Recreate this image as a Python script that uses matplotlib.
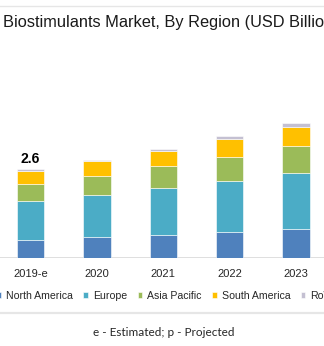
import numpy as np
import matplotlib.pyplot as plt
from matplotlib.lines import Line2D

# data (USD billion)
years = ["2019-e", "2020", "2021", "2022", "2023"]
north_america = [0.52, 0.60, 0.66, 0.75, 0.84]
europe = [1.13, 1.24, 1.38, 1.50, 1.66]
asia_pacific = [0.51, 0.57, 0.64, 0.72, 0.79]
south_america = [0.39, 0.42, 0.45, 0.51, 0.56]
row = [0.05, 0.05, 0.07, 0.08, 0.11]
regions = ["North America", "Europe", "Asia Pacific", "South America", "RoW"]
colors = ["#4F81BD", "#4BACC6", "#9BBB59", "#FFC000", "#C4C0D2"]
first_total = "2.6"

W, H = 324, 346
fig = plt.figure(figsize=(W / 100, H / 100), dpi=100, facecolor='white')

# axes placed in pixel terms: baseline at y=257.5, 34 px per billion
base_px, top_px = 257.5, 40
ax = fig.add_axes([0, (H - base_px) / H, 1, (base_px - top_px) / H])
ax.set_ylim(0, (base_px - top_px) / 34)
step = 66.4
ax.set_xlim(-30.5 / step, (W - 30.5) / step)
for s in ['top', 'right', 'left', 'bottom']:
    ax.spines[s].set_visible(False)
ax.set_yticks([])

x = np.arange(len(years))
bottom = np.zeros(len(years))
for vals, name, c in zip([north_america, europe, asia_pacific, south_america, row], regions, colors):
    ax.bar(x, vals, width=0.41, bottom=bottom, color=c, label=name, edgecolor='white', linewidth=0.4)
    bottom += np.array(vals)

ax.axhline(0, color='#D9D9D9', lw=1.2, zorder=0)
ax.text(x[0], bottom[0] + 0.1, first_total, ha='center', va='bottom',
        fontsize=10, fontweight='bold', family='Liberation Sans', color='black')

ax.set_xticks(x)
ax.set_xticklabels(years, fontsize=8, family='Liberation Sans', color='#262626')
ax.tick_params(axis='x', length=0, pad=8)

# title (cropped at the right edge like the reference)
fig.text(3 / W, 1 - 23 / H, "Biostimulants Market, By Region (USD Billion)", ha='left', va='center',
         fontsize=11.8, family='Liberation Sans', color='#1a1a1a')

# thin rules at the top and above the footnote
fig.add_artist(Line2D([0, 1], [1 - 6 / H, 1 - 6 / H], color='#E6E6E6', lw=1))
fig.add_artist(Line2D([0, 1], [1 - 313 / H, 1 - 313 / H], color='#E6E6E6', lw=1.6))

handles, labels = ax.get_legend_handles_labels()
leg = fig.legend(handles, labels, loc='center left', bbox_to_anchor=(-3.5 / W, 1 - 296 / H),
                 ncol=5, frameon=False, handlelength=0.45, handleheight=0.45,
                 handletextpad=0.45, columnspacing=1.0, borderpad=0, borderaxespad=0,
                 prop={'family': 'Liberation Sans', 'size': 7.6})
for t in leg.get_texts():
    t.set_color('#262626')

fig.text(163.7 / W, 1 - 333 / H, "e - Estimated; p - Projected", ha='center', va='center',
         fontsize=8.5, family='Lato', color='#262626')

fig.savefig('out.png', dpi=100, facecolor='white')
